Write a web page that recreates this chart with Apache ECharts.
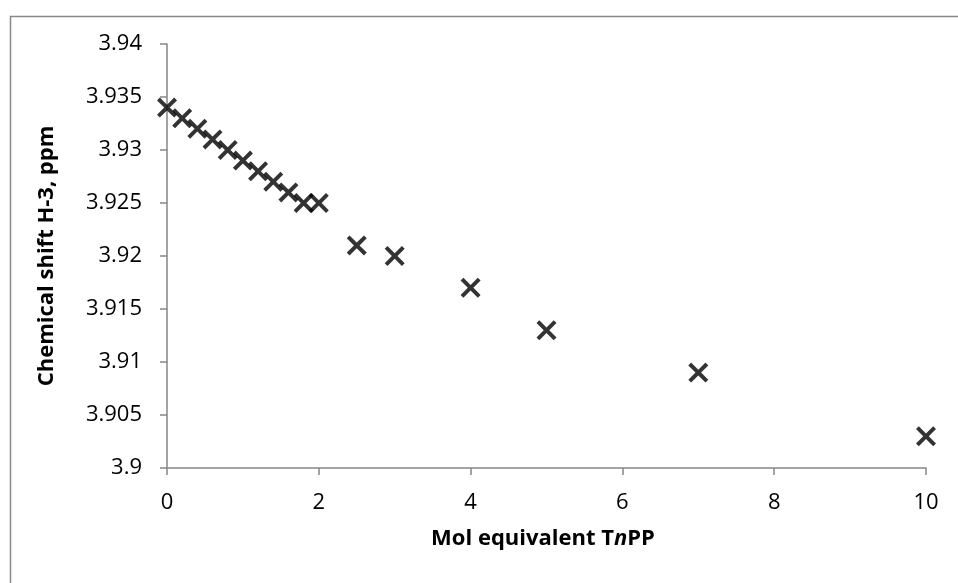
<!DOCTYPE html>
<html>
<head>
<meta charset="utf-8">
<script src="https://cdn.jsdelivr.net/npm/echarts@6/dist/echarts.min.js"></script>
<style>
html,body{margin:0;padding:0;background:#fff;}
#chart{width:958px;height:583px;}
</style>
</head>
<body>
<div id="chart"></div>
<script>
// Data
const molEquivalents = [0, 0.2, 0.4, 0.6, 0.8, 1.0, 1.2, 1.4, 1.6, 1.8, 2.0, 2.5, 3, 4, 5, 7, 10];
const chemicalShifts = [3.934, 3.933, 3.932, 3.931, 3.930, 3.929, 3.928, 3.927, 3.926, 3.925, 3.925, 3.921, 3.920, 3.917, 3.913, 3.909, 3.903];
const xTitle = 'Mol equivalent T{i|n}PP';
const yTitle = 'Chemical shift H-3, ppm';

const points = molEquivalents.map((x, i) => [x, chemicalShifts[i]]);
const FONT = '"Open Sans", sans-serif';
const AXIS_COLOR = '#868686';
const xSymbol = 'path://M0,2.8 L2.8,0 L10,7.2 L17.2,0 L20,2.8 L12.8,10 L20,17.2 L17.2,20 L10,12.8 L2.8,20 L0,17.2 L7.2,10 Z';

const chart = echarts.init(document.getElementById('chart'), null, {renderer: 'canvas'});
chart.setOption({
  animation: false,
  backgroundColor: '#fff',
  grid: {left: 167, top: 44, right: 32, bottom: 115, containLabel: false},
  xAxis: {
    type: 'value', min: 0, max: 10, interval: 2,
    axisLine: {show: true, lineStyle: {color: AXIS_COLOR, width: 1.5}},
    axisTick: {show: true, length: 7, lineStyle: {color: AXIS_COLOR, width: 1.5}},
    splitLine: {show: false},
    axisLabel: {color: '#000', fontFamily: FONT, fontSize: 22, margin: 24}
  },
  yAxis: {
    type: 'value', min: 3.9, max: 3.94, interval: 0.005,
    axisLine: {show: true, lineStyle: {color: AXIS_COLOR, width: 1.5}},
    axisTick: {show: true, length: 7, lineStyle: {color: AXIS_COLOR, width: 1.5}},
    splitLine: {show: false},
    axisLabel: {color: '#000', fontFamily: FONT, fontSize: 22, margin: 25,
      formatter: v => String(+v.toFixed(3))}
  },
  series: [{
    type: 'scatter',
    data: points,
    symbol: xSymbol,
    symbolSize: 20,
    itemStyle: {color: '#000'},
    clip: false
  }],
  graphic: [
    {type: 'rect', left: 8, top: 14, shape: {width: 1000, height: 700},
     style: {fill: null, stroke: '#888', lineWidth: 1.5}, silent: true, z: -1},
    {type: 'text', x: 543, y: 539,
     style: {text: xTitle, fill: '#000', font: 'bold 22px ' + FONT, align: 'center', verticalAlign: 'middle',
       rich: {i: {fontStyle: 'italic', fontWeight: 'bold', fontSize: 22, fontFamily: FONT, fill: '#000'}}}},
    {type: 'text', x: 47, y: 256, rotation: Math.PI / 2,
     style: {text: yTitle, fill: '#000', font: 'bold 22px ' + FONT, align: 'center', verticalAlign: 'middle'}}
  ]
});
</script>
</body>
</html>
